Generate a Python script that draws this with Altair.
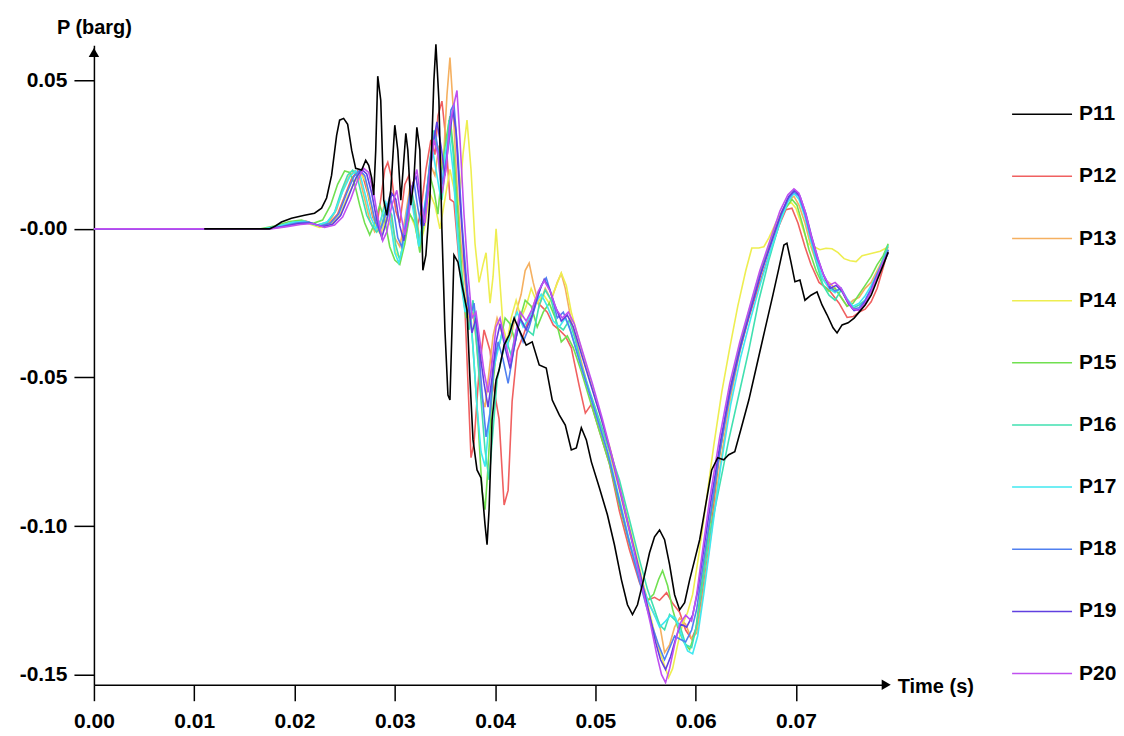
import altair as alt
import pandas as pd

SERIES = ["P11", "P12", "P13", "P14", "P15", "P16", "P17", "P18", "P19", "P20"]
COLORS = ["#000000", "#f06060", "#f5b060", "#eeee50", "#70e050",
          "#40e0b0", "#40e8f0", "#5080f0", "#6040e0", "#c050f0"]
X_TICKS = [0.00, 0.01, 0.02, 0.03, 0.04, 0.05, 0.06, 0.07]
Y_TICKS = [0.05, 0.0, -0.05, -0.10, -0.15]
X_MAX = 0.0790
Y_MIN = -0.1534
Y_MAX = 0.0618

P11 = [(0.0110,0),(0.0175,0),(0.0181,0.0010),(0.0187,0.0023),(0.0197,0.0036),(0.0210,0.0046),(0.0220,0.0053),(0.0227,0.0070),(0.0232,0.0104),(0.0237,0.0181),(0.0242,0.0315),(0.0245,0.0366),(0.0249,0.0372),(0.0253,0.0352),(0.0257,0.0265),(0.0261,0.0204),(0.0267,0.0198),(0.0271,0.0231),(0.0274,0.0214),(0.0277,0.0171),(0.0279,0.0114),(0.0281,0.0265),(0.0283,0.0514),(0.0286,0.0433),(0.0289,0.0097),(0.0292,0.0046),(0.0296,0.0130),(0.0300,0.0349),(0.0303,0.0265),(0.0306,0.0097),(0.0309,0.0231),(0.0311,0.0322),(0.0313,0.0265),(0.0316,0.0080),(0.0319,0.0164),(0.0322,0.0342),(0.0325,0.0265),(0.0328,-0.0139),(0.0331,-0.0088),(0.0335,0.0097),(0.0339,0.0500),(0.0341,0.0621),(0.0344,0.0433),(0.0347,-0.0004),(0.0350,-0.0340),(0.0353,-0.0559),(0.0355,-0.0576),(0.0357,-0.0340),(0.0359,-0.0088),(0.0363,-0.0112),(0.0367,-0.0189),(0.0372,-0.0273),(0.0375,-0.0508),(0.0378,-0.0710),(0.0382,-0.0811),(0.0386,-0.0838),(0.0390,-0.0996),(0.0392,-0.1063),(0.0394,-0.0946),(0.0397,-0.0643),(0.0401,-0.0508),(0.0404,-0.0475),(0.0409,-0.0391),(0.0414,-0.0357),(0.0419,-0.0300),(0.0424,-0.0340),(0.0431,-0.0391),(0.0437,-0.0380),(0.0444,-0.0458),(0.0451,-0.0468),(0.0457,-0.0576),(0.0464,-0.0626),(0.0470,-0.0660),(0.0476,-0.0744),(0.0481,-0.0737),(0.0486,-0.0669),(0.0491,-0.0710),(0.0496,-0.0784),(0.0504,-0.0871),(0.0512,-0.0962),(0.0519,-0.1063),(0.0526,-0.1181),(0.0532,-0.1265),(0.0537,-0.1298),(0.0542,-0.1265),(0.0548,-0.1181),(0.0554,-0.1090),(0.0559,-0.1036),(0.0564,-0.1013),(0.0569,-0.1046),(0.0574,-0.1130),(0.0579,-0.1231),(0.0584,-0.1282),(0.0589,-0.1258),(0.0594,-0.1181),(0.0599,-0.1114),(0.0604,-0.1046),(0.0610,-0.0929),(0.0616,-0.0811),(0.0622,-0.0770),(0.0628,-0.0777),(0.0633,-0.0760),(0.0639,-0.0750),(0.0645,-0.0676),(0.0653,-0.0576),(0.0661,-0.0458),(0.0669,-0.0340),(0.0677,-0.0223),(0.0683,-0.0132),(0.0688,-0.0054),(0.0691,-0.0048),(0.0695,-0.0111),(0.0699,-0.0178),(0.0704,-0.0172),(0.0709,-0.0240),(0.0715,-0.0223),(0.0721,-0.0212),(0.0726,-0.0256),(0.0731,-0.0289),(0.0737,-0.0333),(0.0741,-0.0350),(0.0746,-0.0323),(0.0752,-0.0316),(0.0758,-0.0300),(0.0763,-0.0280),(0.0769,-0.0256),(0.0775,-0.0223),(0.0781,-0.0172),(0.0787,-0.0122),(0.0792,-0.0078)]

P12 = [(0,0),(0.0170,0),(0.0185,0.0009),(0.0200,0.0023),(0.0212,0.0026),(0.0225,0.0010),(0.0235,0.0020),(0.0243,0.0050),(0.0250,0.0110),(0.0257,0.0170),(0.0263,0.0195),(0.0268,0.0180),(0.0273,0.0120),(0.0278,0.0040),(0.0282,0.0010),(0.0286,0.0100),(0.0290,0.0200),(0.0293,0.0224),(0.0297,0.0170),(0.0301,0.0060),(0.0305,0.0020),(0.0310,0.0150),(0.0314,0.0180),(0.0318,0.0090),(0.0322,0.0000),(0.0326,0.0060),(0.0331,0.0200),(0.0336,0.0300),(0.0340,0.0250),(0.0343,0.0380),(0.0347,0.0430),(0.0351,0.0300),(0.0355,0.0100),(0.0359,0.0090),(0.0364,-0.0105),(0.0370,-0.0273),(0.0376,-0.0770),(0.0379,-0.0720),(0.0384,-0.0480),(0.0389,-0.0340),(0.0395,-0.0410),(0.0399,-0.0542),(0.0404,-0.0640),(0.0409,-0.0929),(0.0413,-0.0880),(0.0417,-0.0580),(0.0422,-0.0410),(0.0428,-0.0360),(0.0434,-0.0300),(0.0440,-0.0240),(0.0446,-0.0260),(0.0452,-0.0280),(0.0458,-0.0323),(0.0464,-0.0340),(0.0470,-0.0360),(0.0476,-0.0400),(0.0484,-0.0530),(0.0490,-0.0620),(0.0496,-0.0590),(0.0504,-0.0680),(0.0514,-0.0790),(0.0524,-0.0950),(0.0534,-0.1080),(0.0544,-0.1190),(0.0552,-0.1250),(0.0559,-0.1240),(0.0564,-0.1250),(0.0571,-0.1224),(0.0577,-0.1260),(0.0584,-0.1290),(0.0590,-0.1350),(0.0596,-0.1380),(0.0601,-0.1340),(0.0606,-0.1240),(0.0613,-0.1080),(0.0623,-0.0780),(0.0633,-0.0560),(0.0643,-0.0420),(0.0653,-0.0300),(0.0663,-0.0190),(0.0673,-0.0090),(0.0683,0.0010),(0.0690,0.0065),(0.0696,0.0070),(0.0702,0.0020),(0.0709,-0.0060),(0.0715,-0.0120),(0.0723,-0.0180),(0.0733,-0.0206),(0.0743,-0.0250),(0.0751,-0.0298),(0.0757,-0.0295),(0.0763,-0.0280),(0.0769,-0.0270),(0.0775,-0.0245),(0.0781,-0.0200),(0.0787,-0.0130),(0.0792,-0.0070)]

P13 = [(0,0),(0.0170,0),(0.0185,0.0009),(0.0200,0.0020),(0.0212,0.0024),(0.0225,0.0010),(0.0235,0.0025),(0.0242,0.0065),(0.0249,0.0140),(0.0255,0.0180),(0.0260,0.0195),(0.0265,0.0170),(0.0270,0.0100),(0.0275,0.0030),(0.0280,-0.0010),(0.0285,0.0010),(0.0290,0.0090),(0.0295,0.0060),(0.0300,-0.0030),(0.0305,-0.0060),(0.0310,0.0030),(0.0315,0.0140),(0.0320,0.0080),(0.0325,-0.0040),(0.0330,0.0050),(0.0335,0.0220),(0.0340,0.0180),(0.0344,0.0280),(0.0348,0.0200),(0.0352,0.0450),(0.0355,0.0577),(0.0358,0.0420),(0.0362,0.0150),(0.0366,-0.0050),(0.0370,-0.0180),(0.0374,-0.0320),(0.0378,-0.0280),(0.0382,-0.0400),(0.0386,-0.0560),(0.0390,-0.0600),(0.0394,-0.0480),(0.0398,-0.0360),(0.0402,-0.0300),(0.0406,-0.0340),(0.0411,-0.0400),(0.0416,-0.0360),(0.0421,-0.0280),(0.0426,-0.0220),(0.0430,-0.0140),(0.0434,-0.0115),(0.0438,-0.0180),(0.0444,-0.0260),(0.0450,-0.0200),(0.0456,-0.0240),(0.0462,-0.0180),(0.0466,-0.0150),(0.0470,-0.0200),(0.0476,-0.0310),(0.0484,-0.0420),(0.0494,-0.0550),(0.0504,-0.0650),(0.0514,-0.0750),(0.0524,-0.0880),(0.0534,-0.1020),(0.0544,-0.1150),(0.0552,-0.1250),(0.0559,-0.1300),(0.0564,-0.1330),(0.0569,-0.1426),(0.0574,-0.1400),(0.0579,-0.1340),(0.0584,-0.1310),(0.0590,-0.1330),(0.0596,-0.1380),(0.0601,-0.1360),(0.0606,-0.1260),(0.0613,-0.1090),(0.0623,-0.0830),(0.0633,-0.0600),(0.0643,-0.0430),(0.0653,-0.0290),(0.0663,-0.0170),(0.0673,-0.0060),(0.0683,0.0040),(0.0691,0.0090),(0.0698,0.0110),(0.0703,0.0080),(0.0709,0.0020),(0.0715,-0.0060),(0.0721,-0.0120),(0.0727,-0.0170),(0.0733,-0.0180),(0.0739,-0.0200),(0.0745,-0.0230),(0.0751,-0.0260),(0.0757,-0.0240),(0.0763,-0.0230),(0.0769,-0.0200),(0.0775,-0.0180),(0.0781,-0.0140),(0.0787,-0.0100),(0.0792,-0.0060)]

P14 = [(0,0),(0.0170,0),(0.0185,0.0005),(0.0200,0.0015),(0.0212,0.0020),(0.0225,0.0005),(0.0235,0.0012),(0.0245,0.0045),(0.0253,0.0110),(0.0260,0.0160),(0.0266,0.0185),(0.0271,0.0160),(0.0276,0.0080),(0.0281,0.0010),(0.0286,-0.0020),(0.0291,0.0040),(0.0296,0.0010),(0.0301,-0.0080),(0.0305,-0.0100),(0.0310,-0.0030),(0.0315,0.0050),(0.0320,0.0010),(0.0325,-0.0060),(0.0330,0.0010),(0.0335,0.0120),(0.0340,0.0080),(0.0345,0.0000),(0.0350,0.0100),(0.0355,0.0200),(0.0360,0.0120),(0.0364,0.0080),(0.0368,0.0250),(0.0372,0.0366),(0.0376,0.0200),(0.0380,-0.0050),(0.0384,-0.0180),(0.0388,-0.0120),(0.0391,-0.0080),(0.0395,-0.0250),(0.0398,-0.0160),(0.0401,0.0000),(0.0404,-0.0140),(0.0408,-0.0330),(0.0412,-0.0380),(0.0416,-0.0300),(0.0421,-0.0240),(0.0426,-0.0300),(0.0431,-0.0260),(0.0436,-0.0200),(0.0442,-0.0250),(0.0448,-0.0220),(0.0454,-0.0250),(0.0460,-0.0200),(0.0466,-0.0148),(0.0471,-0.0190),(0.0476,-0.0280),(0.0484,-0.0380),(0.0494,-0.0500),(0.0504,-0.0620),(0.0514,-0.0730),(0.0524,-0.0860),(0.0534,-0.1000),(0.0544,-0.1140),(0.0552,-0.1260),(0.0559,-0.1360),(0.0564,-0.1420),(0.0569,-0.1470),(0.0573,-0.1510),(0.0577,-0.1480),(0.0582,-0.1400),(0.0587,-0.1330),(0.0592,-0.1290),(0.0597,-0.1230),(0.0603,-0.1100),(0.0610,-0.0930),(0.0618,-0.0730),(0.0626,-0.0550),(0.0634,-0.0400),(0.0642,-0.0260),(0.0650,-0.0140),(0.0656,-0.0064),(0.0663,-0.0064),(0.0668,-0.0060),(0.0673,-0.0030),(0.0680,0.0020),(0.0688,0.0070),(0.0695,0.0090),(0.0700,0.0070),(0.0706,0.0010),(0.0712,-0.0050),(0.0718,-0.0060),(0.0724,-0.0070),(0.0730,-0.0065),(0.0736,-0.0067),(0.0742,-0.0080),(0.0748,-0.0100),(0.0754,-0.0107),(0.0760,-0.0110),(0.0766,-0.0090),(0.0772,-0.0085),(0.0778,-0.0080),(0.0784,-0.0075),(0.0790,-0.0064)]

P15 = [(0,0),(0.0165,0),(0.0180,0.0010),(0.0195,0.0025),(0.0207,0.0030),(0.0218,0.0018),(0.0228,0.0030),(0.0236,0.0080),(0.0243,0.0150),(0.0250,0.0195),(0.0255,0.0190),(0.0260,0.0150),(0.0265,0.0080),(0.0270,0.0020),(0.0275,-0.0020),(0.0280,0.0020),(0.0285,0.0080),(0.0290,0.0030),(0.0295,-0.0060),(0.0300,-0.0105),(0.0305,-0.0120),(0.0310,-0.0050),(0.0315,0.0050),(0.0320,0.0020),(0.0325,-0.0080),(0.0330,0.0050),(0.0335,0.0180),(0.0339,0.0130),(0.0343,0.0050),(0.0347,0.0200),(0.0351,0.0300),(0.0355,0.0380),(0.0359,0.0250),(0.0363,0.0050),(0.0367,-0.0150),(0.0371,-0.0300),(0.0375,-0.0250),(0.0379,-0.0450),(0.0383,-0.0650),(0.0387,-0.0880),(0.0390,-0.0945),(0.0393,-0.0800),(0.0397,-0.0550),(0.0401,-0.0420),(0.0405,-0.0380),(0.0410,-0.0300),(0.0415,-0.0320),(0.0420,-0.0380),(0.0425,-0.0300),(0.0430,-0.0240),(0.0436,-0.0260),(0.0442,-0.0330),(0.0448,-0.0280),(0.0454,-0.0250),(0.0460,-0.0300),(0.0466,-0.0380),(0.0472,-0.0360),(0.0478,-0.0400),(0.0486,-0.0480),(0.0494,-0.0570),(0.0504,-0.0680),(0.0514,-0.0790),(0.0524,-0.0930),(0.0534,-0.1060),(0.0544,-0.1170),(0.0552,-0.1250),(0.0558,-0.1230),(0.0563,-0.1180),(0.0567,-0.1150),(0.0572,-0.1200),(0.0577,-0.1280),(0.0582,-0.1340),(0.0588,-0.1390),(0.0594,-0.1416),(0.0600,-0.1350),(0.0605,-0.1220),(0.0612,-0.1050),(0.0622,-0.0800),(0.0632,-0.0580),(0.0642,-0.0420),(0.0652,-0.0290),(0.0662,-0.0170),(0.0672,-0.0070),(0.0682,0.0020),(0.0690,0.0070),(0.0696,0.0100),(0.0701,0.0080),(0.0707,0.0010),(0.0713,-0.0070),(0.0720,-0.0140),(0.0727,-0.0190),(0.0733,-0.0210),(0.0739,-0.0200),(0.0745,-0.0230),(0.0751,-0.0260),(0.0757,-0.0250),(0.0763,-0.0220),(0.0769,-0.0190),(0.0775,-0.0160),(0.0781,-0.0120),(0.0787,-0.0090),(0.0792,-0.0050)]

P16 = [(0,0),(0.0170,0),(0.0185,0.0009),(0.0200,0.0023),(0.0210,0.0026),(0.0223,0.0013),(0.0233,0.0023),(0.0240,0.0057),(0.0247,0.0130),(0.0253,0.0181),(0.0258,0.0198),(0.0262,0.0181),(0.0267,0.0114),(0.0272,0.0046),(0.0277,0.0013),(0.0282,-0.0011),(0.0287,0.0013),(0.0292,0.0080),(0.0297,0.0046),(0.0301,-0.0055),(0.0305,-0.0105),(0.0309,-0.0038),(0.0313,0.0063),(0.0317,0.0130),(0.0321,0.0046),(0.0325,-0.0055),(0.0330,0.0046),(0.0335,0.0231),(0.0339,0.0332),(0.0343,0.0265),(0.0347,0.0097),(0.0351,0.0231),(0.0354,0.0366),(0.0358,0.0265),(0.0362,0.0029),(0.0366,-0.0139),(0.0370,-0.0240),(0.0374,-0.0340),(0.0378,-0.0240),(0.0382,-0.0408),(0.0386,-0.0576),(0.0390,-0.0744),(0.0394,-0.0845),(0.0398,-0.0676),(0.0402,-0.0508),(0.0406,-0.0441),(0.0411,-0.0374),(0.0416,-0.0424),(0.0421,-0.0340),(0.0426,-0.0307),(0.0432,-0.0340),(0.0438,-0.0357),(0.0444,-0.0256),(0.0450,-0.0206),(0.0456,-0.0240),(0.0462,-0.0323),(0.0468,-0.0340),(0.0474,-0.0307),(0.0480,-0.0374),(0.0486,-0.0458),(0.0494,-0.0542),(0.0504,-0.0643),(0.0514,-0.0744),(0.0524,-0.0845),(0.0534,-0.0979),(0.0544,-0.1114),(0.0552,-0.1214),(0.0559,-0.1282),(0.0564,-0.1332),(0.0569,-0.1349),(0.0574,-0.1298),(0.0579,-0.1315),(0.0584,-0.1332),(0.0590,-0.1399),(0.0596,-0.1409),(0.0601,-0.1332),(0.0606,-0.1214),(0.0613,-0.1046),(0.0623,-0.0878),(0.0633,-0.0710),(0.0643,-0.0559),(0.0653,-0.0408),(0.0663,-0.0240),(0.0673,-0.0105),(0.0683,0.0013),(0.0691,0.0097),(0.0698,0.0130),(0.0703,0.0114),(0.0709,0.0046),(0.0715,-0.0038),(0.0721,-0.0122),(0.0727,-0.0189),(0.0733,-0.0223),(0.0739,-0.0240),(0.0745,-0.0206),(0.0751,-0.0240),(0.0757,-0.0266),(0.0763,-0.0256),(0.0769,-0.0240),(0.0775,-0.0206),(0.0781,-0.0155),(0.0787,-0.0098),(0.0792,-0.0055)]

P17 = [(0,0),(0.0168,0),(0.0183,0.0009),(0.0198,0.0022),(0.0210,0.0026),(0.0222,0.0012),(0.0232,0.0022),(0.0240,0.0055),(0.0248,0.0125),(0.0255,0.0175),(0.0261,0.0196),(0.0266,0.0175),(0.0271,0.0110),(0.0276,0.0040),(0.0281,0.0000),(0.0286,0.0030),(0.0291,0.0090),(0.0296,0.0020),(0.0300,-0.0080),(0.0304,-0.0115),(0.0308,-0.0060),(0.0312,0.0060),(0.0316,0.0110),(0.0320,0.0030),(0.0324,-0.0060),(0.0329,0.0060),(0.0334,0.0180),(0.0338,0.0260),(0.0342,0.0180),(0.0346,0.0100),(0.0350,0.0250),(0.0354,0.0320),(0.0358,0.0200),(0.0362,0.0000),(0.0366,-0.0180),(0.0370,-0.0280),(0.0374,-0.0230),(0.0378,-0.0400),(0.0382,-0.0600),(0.0386,-0.0750),(0.0390,-0.0800),(0.0394,-0.0650),(0.0398,-0.0480),(0.0402,-0.0420),(0.0407,-0.0350),(0.0412,-0.0400),(0.0417,-0.0320),(0.0422,-0.0280),(0.0428,-0.0330),(0.0434,-0.0300),(0.0440,-0.0250),(0.0446,-0.0220),(0.0452,-0.0260),(0.0458,-0.0310),(0.0464,-0.0330),(0.0470,-0.0300),(0.0476,-0.0350),(0.0484,-0.0440),(0.0494,-0.0550),(0.0504,-0.0660),(0.0514,-0.0770),(0.0524,-0.0910),(0.0534,-0.1050),(0.0544,-0.1170),(0.0552,-0.1250),(0.0559,-0.1300),(0.0564,-0.1340),(0.0570,-0.1320),(0.0575,-0.1300),(0.0580,-0.1310),(0.0586,-0.1370),(0.0592,-0.1420),(0.0597,-0.1430),(0.0602,-0.1370),(0.0608,-0.1230),(0.0615,-0.1050),(0.0625,-0.0800),(0.0635,-0.0590),(0.0645,-0.0430),(0.0655,-0.0300),(0.0665,-0.0180),(0.0675,-0.0070),(0.0685,0.0030),(0.0692,0.0090),(0.0698,0.0120),(0.0703,0.0100),(0.0709,0.0040),(0.0715,-0.0040),(0.0721,-0.0110),(0.0727,-0.0170),(0.0733,-0.0200),(0.0739,-0.0215),(0.0745,-0.0200),(0.0751,-0.0235),(0.0757,-0.0260),(0.0763,-0.0250),(0.0769,-0.0225),(0.0775,-0.0190),(0.0781,-0.0150),(0.0787,-0.0110),(0.0792,-0.0070)]

P18 = [(0,0),(0.0172,0),(0.0187,0.0008),(0.0202,0.0020),(0.0214,0.0023),(0.0226,0.0010),(0.0236,0.0020),(0.0244,0.0050),(0.0252,0.0120),(0.0259,0.0175),(0.0265,0.0198),(0.0270,0.0180),(0.0275,0.0110),(0.0280,0.0030),(0.0285,-0.0010),(0.0290,0.0040),(0.0295,0.0110),(0.0299,0.0060),(0.0303,-0.0030),(0.0307,-0.0060),(0.0311,0.0020),(0.0315,0.0120),(0.0319,0.0160),(0.0323,0.0070),(0.0327,0.0000),(0.0331,0.0100),(0.0336,0.0250),(0.0340,0.0330),(0.0344,0.0250),(0.0348,0.0150),(0.0352,0.0250),(0.0356,0.0400),(0.0359,0.0420),(0.0363,0.0250),(0.0367,0.0020),(0.0371,-0.0150),(0.0375,-0.0300),(0.0379,-0.0250),(0.0383,-0.0380),(0.0387,-0.0550),(0.0391,-0.0700),(0.0395,-0.0620),(0.0399,-0.0450),(0.0403,-0.0380),(0.0408,-0.0440),(0.0413,-0.0520),(0.0418,-0.0420),(0.0423,-0.0330),(0.0428,-0.0380),(0.0434,-0.0330),(0.0440,-0.0260),(0.0446,-0.0190),(0.0451,-0.0165),(0.0456,-0.0220),(0.0462,-0.0300),(0.0468,-0.0280),(0.0474,-0.0330),(0.0482,-0.0420),(0.0492,-0.0530),(0.0502,-0.0640),(0.0512,-0.0750),(0.0522,-0.0890),(0.0532,-0.1030),(0.0542,-0.1160),(0.0550,-0.1260),(0.0557,-0.1340),(0.0563,-0.1400),(0.0569,-0.1450),(0.0574,-0.1410),(0.0579,-0.1370),(0.0584,-0.1380),(0.0590,-0.1390),(0.0596,-0.1350),(0.0601,-0.1280),(0.0607,-0.1140),(0.0614,-0.0980),(0.0624,-0.0750),(0.0634,-0.0560),(0.0644,-0.0410),(0.0654,-0.0280),(0.0664,-0.0160),(0.0674,-0.0060),(0.0684,0.0040),(0.0692,0.0100),(0.0698,0.0125),(0.0703,0.0110),(0.0709,0.0050),(0.0715,-0.0030),(0.0721,-0.0100),(0.0727,-0.0150),(0.0733,-0.0190),(0.0739,-0.0210),(0.0745,-0.0200),(0.0751,-0.0240),(0.0757,-0.0270),(0.0763,-0.0265),(0.0769,-0.0240),(0.0775,-0.0200),(0.0781,-0.0150),(0.0787,-0.0110),(0.0792,-0.0070)]

P19 = [(0,0),(0.0174,0),(0.0189,0.0008),(0.0204,0.0018),(0.0216,0.0020),(0.0228,0.0008),(0.0238,0.0016),(0.0246,0.0045),(0.0254,0.0110),(0.0261,0.0170),(0.0267,0.0200),(0.0272,0.0185),(0.0277,0.0120),(0.0282,0.0030),(0.0287,-0.0030),(0.0292,0.0030),(0.0297,0.0120),(0.0301,0.0100),(0.0305,0.0010),(0.0309,-0.0040),(0.0313,0.0030),(0.0317,0.0140),(0.0321,0.0180),(0.0325,0.0090),(0.0329,0.0010),(0.0333,0.0120),(0.0338,0.0280),(0.0342,0.0360),(0.0346,0.0280),(0.0350,0.0180),(0.0354,0.0300),(0.0358,0.0400),(0.0361,0.0330),(0.0365,0.0100),(0.0369,-0.0100),(0.0373,-0.0250),(0.0377,-0.0350),(0.0381,-0.0300),(0.0385,-0.0420),(0.0389,-0.0520),(0.0393,-0.0600),(0.0397,-0.0500),(0.0401,-0.0380),(0.0405,-0.0320),(0.0410,-0.0400),(0.0415,-0.0470),(0.0420,-0.0380),(0.0425,-0.0300),(0.0431,-0.0340),(0.0437,-0.0290),(0.0443,-0.0220),(0.0449,-0.0170),(0.0454,-0.0200),(0.0460,-0.0260),(0.0466,-0.0310),(0.0472,-0.0290),(0.0478,-0.0330),(0.0486,-0.0420),(0.0496,-0.0530),(0.0506,-0.0640),(0.0516,-0.0760),(0.0526,-0.0900),(0.0536,-0.1040),(0.0546,-0.1180),(0.0554,-0.1300),(0.0560,-0.1390),(0.0565,-0.1450),(0.0570,-0.1483),(0.0575,-0.1440),(0.0580,-0.1380),(0.0585,-0.1330),(0.0591,-0.1340),(0.0597,-0.1300),(0.0602,-0.1220),(0.0608,-0.1080),(0.0615,-0.0920),(0.0625,-0.0710),(0.0635,-0.0530),(0.0645,-0.0390),(0.0655,-0.0270),(0.0665,-0.0150),(0.0675,-0.0050),(0.0685,0.0050),(0.0693,0.0110),(0.0699,0.0130),(0.0704,0.0110),(0.0710,0.0050),(0.0716,-0.0030),(0.0722,-0.0100),(0.0728,-0.0160),(0.0734,-0.0200),(0.0740,-0.0190),(0.0746,-0.0210),(0.0752,-0.0250),(0.0758,-0.0275),(0.0764,-0.0270),(0.0770,-0.0240),(0.0776,-0.0200),(0.0782,-0.0150),(0.0788,-0.0110),(0.0792,-0.0080)]

P20 = [(0,0),(0.0176,0),(0.0191,0.0007),(0.0206,0.0015),(0.0218,0.0018),(0.0230,0.0005),(0.0240,0.0013),(0.0248,0.0040),(0.0256,0.0100),(0.0263,0.0165),(0.0269,0.0204),(0.0274,0.0190),(0.0279,0.0120),(0.0284,0.0020),(0.0288,-0.0040),(0.0292,-0.0010),(0.0297,0.0080),(0.0302,0.0130),(0.0306,0.0050),(0.0310,-0.0020),(0.0314,0.0050),(0.0318,0.0150),(0.0322,0.0200),(0.0326,0.0100),(0.0330,0.0020),(0.0334,0.0150),(0.0339,0.0300),(0.0343,0.0250),(0.0347,0.0120),(0.0351,0.0200),(0.0355,0.0350),(0.0359,0.0420),(0.0362,0.0466),(0.0365,0.0300),(0.0369,0.0050),(0.0373,-0.0150),(0.0377,-0.0300),(0.0381,-0.0280),(0.0385,-0.0380),(0.0389,-0.0480),(0.0393,-0.0550),(0.0397,-0.0450),(0.0401,-0.0330),(0.0405,-0.0300),(0.0410,-0.0380),(0.0415,-0.0450),(0.0420,-0.0360),(0.0425,-0.0280),(0.0431,-0.0310),(0.0437,-0.0270),(0.0443,-0.0210),(0.0449,-0.0175),(0.0455,-0.0210),(0.0461,-0.0270),(0.0467,-0.0300),(0.0473,-0.0280),(0.0479,-0.0320),(0.0487,-0.0410),(0.0497,-0.0520),(0.0507,-0.0640),(0.0517,-0.0770),(0.0527,-0.0910),(0.0537,-0.1060),(0.0547,-0.1210),(0.0555,-0.1330),(0.0561,-0.1430),(0.0566,-0.1500),(0.0570,-0.1527),(0.0574,-0.1480),(0.0579,-0.1400),(0.0584,-0.1330),(0.0590,-0.1300),(0.0596,-0.1320),(0.0601,-0.1230),(0.0607,-0.1080),(0.0614,-0.0910),(0.0624,-0.0700),(0.0634,-0.0520),(0.0644,-0.0380),(0.0654,-0.0260),(0.0664,-0.0140),(0.0674,-0.0040),(0.0684,0.0060),(0.0692,0.0115),(0.0698,0.0135),(0.0703,0.0120),(0.0709,0.0060),(0.0715,-0.0020),(0.0721,-0.0090),(0.0727,-0.0150),(0.0733,-0.0190),(0.0739,-0.0180),(0.0745,-0.0200),(0.0751,-0.0240),(0.0757,-0.0270),(0.0763,-0.0275),(0.0769,-0.0250),(0.0775,-0.0210),(0.0781,-0.0160),(0.0787,-0.0110),(0.0792,-0.0080)]

DATA = {"P11": P11, "P12": P12, "P13": P13, "P14": P14, "P15": P15,
        "P16": P16, "P17": P17, "P18": P18, "P19": P19, "P20": P20}

# colored series first, the black P11 last so that it is drawn on top
draw_order = SERIES[1:] + SERIES[:1]
rows = []
for name in draw_order:
    for t, p in DATA[name]:
        rows.append({"series": name, "t": t, "p": p})
df = pd.DataFrame(rows)

FONT = "Liberation Sans"

y_label_expr = ("datum.value == 0 ? '-0.00' : (datum.value < 0 ? '-' + "
                "format(-datum.value, '.2f') : format(datum.value, '.2f'))")

x_enc = alt.X("t:Q",
              scale=alt.Scale(domain=[0, X_MAX], nice=False, zero=False),
              axis=alt.Axis(values=X_TICKS, format=".2f", title="Time (s)",
                            titleX=804, titleY=2, titleAlign="left",
                            titleBaseline="middle", titleAngle=0,
                            tickSize=16, labelPadding=10, labelFlush=False,
                            grid=False))
y_enc = alt.Y("p:Q",
              scale=alt.Scale(domain=[Y_MIN, Y_MAX], nice=False, zero=False),
              axis=alt.Axis(values=Y_TICKS, labelExpr=y_label_expr,
                            title="P (barg)", titleAngle=0, titleAlign="center",
                            titleX=0, titleY=-12, titleBaseline="alphabetic",
                            tickSize=20, labelPadding=7, grid=False))

lines = alt.Chart(df).mark_line(strokeWidth=1.6).encode(
    x=x_enc,
    y=y_enc,
    color=alt.Color("series:N",
                    scale=alt.Scale(domain=SERIES, range=COLORS),
                    legend=alt.Legend(title=None, orient="none",
                                      legendX=918, legendY=38,
                                      symbolType="stroke", symbolSize=3600,
                                      symbolStrokeWidth=1.5, rowPadding=21.2,
                                      labelOffset=6, padding=0,
                                      labelFont=FONT, labelFontSize=21,
                                      labelFontWeight="bold",
                                      labelColor="black")),
)

arrow_up = pd.DataFrame({"t": [0.0], "p": [Y_MAX - 0.0024]})
arrow_right = pd.DataFrame({"t": [X_MAX], "p": [Y_MIN]})

up = alt.Chart(arrow_up).mark_point(shape="triangle-up", filled=True,
                                    color="black", size=110, opacity=1).encode(
    x="t:Q", y="p:Q")
right = alt.Chart(arrow_right).mark_point(shape="triangle-right", filled=True,
                                          color="black", size=110, opacity=1).encode(
    x="t:Q", y="p:Q")

chart = alt.layer(lines, up, right).properties(
    width=793, height=640,
    autosize=alt.AutoSizeParams(type="none"),
    padding={"left": 86, "top": 37, "right": 230, "bottom": 46},
).configure_view(stroke=None).configure_axis(
    domainColor="black", domainWidth=1.5, tickColor="black", tickWidth=1.5,
    labelFont=FONT, labelFontSize=21, labelFontWeight="bold", labelColor="black",
    titleFont=FONT, titleFontSize=20, titleFontWeight="bold", titleColor="black",
)

chart.save("out.html", embed_options={"renderer": "svg", "actions": False})
